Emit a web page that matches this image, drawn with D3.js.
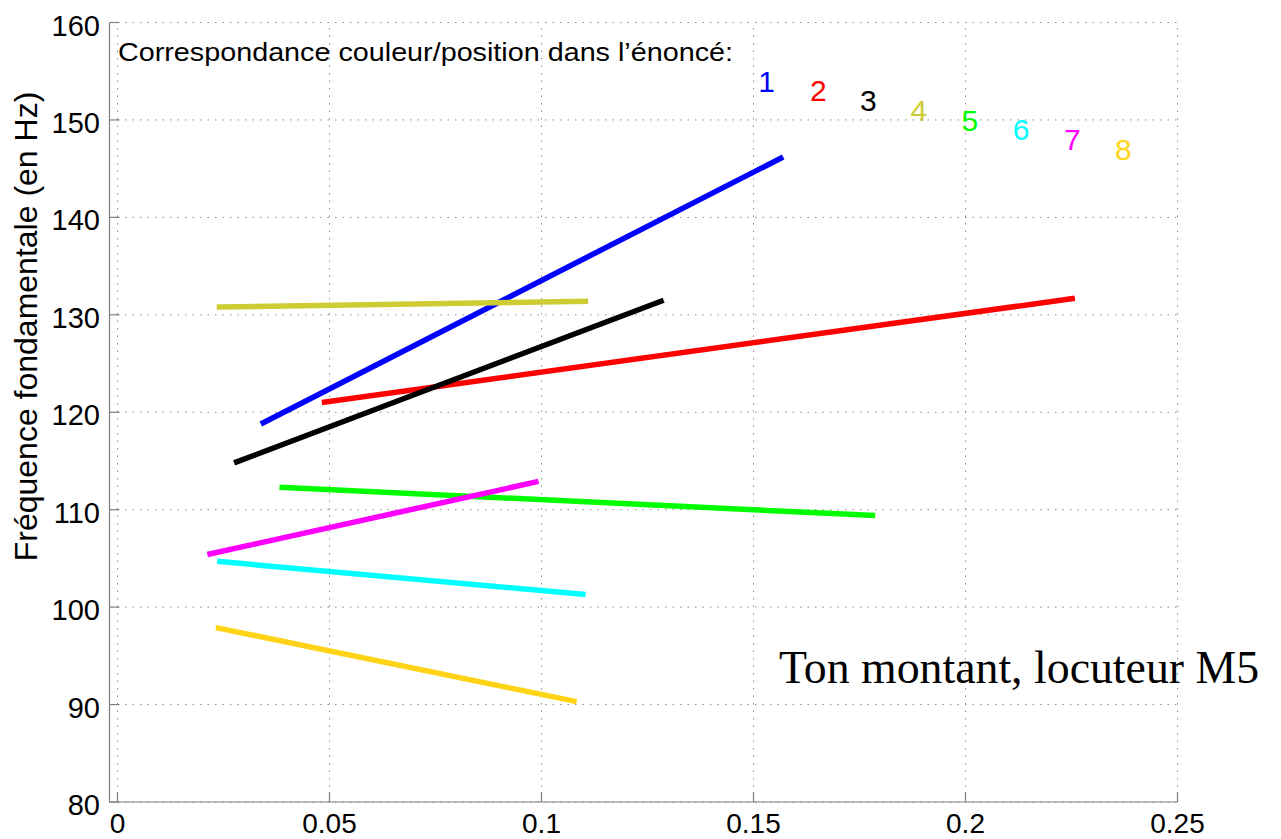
<!DOCTYPE html>
<html>
<head>
<meta charset="utf-8">
<script src="https://cdn.jsdelivr.net/npm/d3@7"></script>
<style>
  html, body { margin: 0; padding: 0; background: #fff; }
  svg { display: block; }
</style>
</head>
<body>
<svg id="chart" width="1281" height="839"></svg>
<script>
// ---- data ----
const seriesNames = ["1", "2", "3", "4", "5", "6", "7", "8"];
const seriesColors = ["#0000ff", "#ff0000", "#000000", "#cccc33", "#00ff00", "#00ffff", "#ff00ff", "#ffd416"];
const startX = [0.0338, 0.0482, 0.0275, 0.0234, 0.0382, 0.0235, 0.0212, 0.0232];
const startY = [118.8, 121.0, 114.8, 130.8, 112.3, 104.7, 105.4, 97.9];
const endX   = [0.1570, 0.2258, 0.1288, 0.1110, 0.1787, 0.1104, 0.0993, 0.1083];
const endY   = [146.2, 131.7, 131.5, 131.4, 109.4, 101.3, 112.9, 90.3];
const labelX = [0.1531, 0.1653, 0.1771, 0.1890, 0.2010, 0.2131, 0.2252, 0.2372];
const labelY = [152.9, 151.9, 150.9, 149.9, 148.9, 147.9, 146.9, 145.9];
const xTicks = [0, 0.05, 0.1, 0.15, 0.2, 0.25];
const xTickLabels = ["0", "0.05", "0.1", "0.15", "0.2", "0.25"];
const yTicks = [80, 90, 100, 110, 120, 130, 140, 150, 160];
const yTickLabels = ["80", "90", "100", "110", "120", "130", "140", "150", "160"];
const headerText = "Correspondance couleur/position dans l\u2019\u00e9nonc\u00e9:";
const yLabel = "Fr\u00e9quence fondamentale (en Hz)";
const noteText = "Ton montant, locuteur M5";

// ---- layout ----
const svg = d3.select("#chart");
const x = d3.scaleLinear().domain([0, 0.25]).range([117.5, 1177.5]);
const y = d3.scaleLinear().domain([80, 160]).range([802, 22.5]);
const spineX = 109.5;
const sans = "'Liberation Sans', Arial, Helvetica, sans-serif";
const gridColor = "#8c8c8c";

// grid
svg.append("g").selectAll("line").data(xTicks).join("line")
  .attr("x1", d => x(d)).attr("x2", d => x(d))
  .attr("y1", y(80)).attr("y2", y(160))
  .attr("stroke", gridColor).attr("stroke-width", 1)
  .attr("stroke-dasharray", "1.5,6");
svg.append("g").selectAll("line").data(yTicks).join("line")
  .attr("x1", x(0)).attr("x2", x(0.25))
  .attr("y1", d => y(d)).attr("y2", d => y(d))
  .attr("stroke", gridColor).attr("stroke-width", 1)
  .attr("stroke-dasharray", "1.5,6");

// spines
svg.append("line").attr("x1", spineX).attr("x2", spineX).attr("y1", y(160)).attr("y2", y(80) + 0.5)
  .attr("stroke", "#7f7f7f").attr("stroke-width", 1.2);
svg.append("line").attr("x1", spineX).attr("x2", x(0.25)).attr("y1", y(80)).attr("y2", y(80))
  .attr("stroke", "#7f7f7f").attr("stroke-width", 1.2);

// ticks
svg.append("g").selectAll("line").data(yTicks).join("line")
  .attr("x1", spineX).attr("x2", spineX + 10)
  .attr("y1", d => y(d)).attr("y2", d => y(d))
  .attr("stroke", "#7f7f7f").attr("stroke-width", 1.2);
svg.append("g").selectAll("line").data(xTicks).join("line")
  .attr("x1", d => x(d)).attr("x2", d => x(d))
  .attr("y1", y(80)).attr("y2", y(80) - 10)
  .attr("stroke", "#7f7f7f").attr("stroke-width", 1.2);

// tick labels
svg.append("g").selectAll("text").data(yTicks).join("text")
  .attr("x", 100).attr("y", d => y(d) + 13)
  .attr("text-anchor", "end")
  .attr("font-family", sans).attr("font-size", 29).attr("fill", "#000")
  .text((d, i) => yTickLabels[i]);
svg.append("g").selectAll("text").data(xTicks).join("text")
  .attr("x", d => x(d)).attr("y", y(80) + 31)
  .attr("text-anchor", "middle")
  .attr("font-family", sans).attr("font-size", 28).attr("fill", "#000")
  .text((d, i) => xTickLabels[i]);

// y label
svg.append("text")
  .attr("transform", "translate(37,326.5) rotate(-90)")
  .attr("text-anchor", "middle")
  .attr("font-family", sans).attr("font-size", 32).attr("fill", "#000")
  .text(yLabel);

// lines
const segs = seriesNames.map((n, i) => ({ name: n, color: seriesColors[i],
  pts: [[startX[i], startY[i]], [endX[i], endY[i]]] }));
const lineGen = d3.line().x(d => x(d[0])).y(d => y(d[1]));
svg.append("g").selectAll("path").data(segs).join("path")
  .attr("d", d => lineGen(d.pts))
  .attr("fill", "none").attr("stroke", d => d.color)
  .attr("stroke-width", 5.5);

// header text
svg.append("text")
  .attr("x", 118).attr("y", 61)
  .attr("font-family", sans).attr("font-size", 26).attr("fill", "#000")
  .attr("textLength", 615).attr("lengthAdjust", "spacingAndGlyphs")
  .text(headerText);

// number labels
svg.append("g").selectAll("text").data(seriesNames).join("text")
  .attr("x", (d, i) => x(labelX[i])).attr("y", (d, i) => y(labelY[i]))
  .attr("text-anchor", "middle")
  .attr("font-family", sans).attr("font-size", 30)
  .attr("fill", (d, i) => seriesColors[i])
  .text(d => d);

// note
svg.append("text")
  .attr("x", 779).attr("y", 683)
  .attr("font-family", "'Liberation Serif', 'Times New Roman', serif").attr("font-size", 45.8).attr("fill", "#000")
  .text(noteText);
</script>
</body>
</html>
